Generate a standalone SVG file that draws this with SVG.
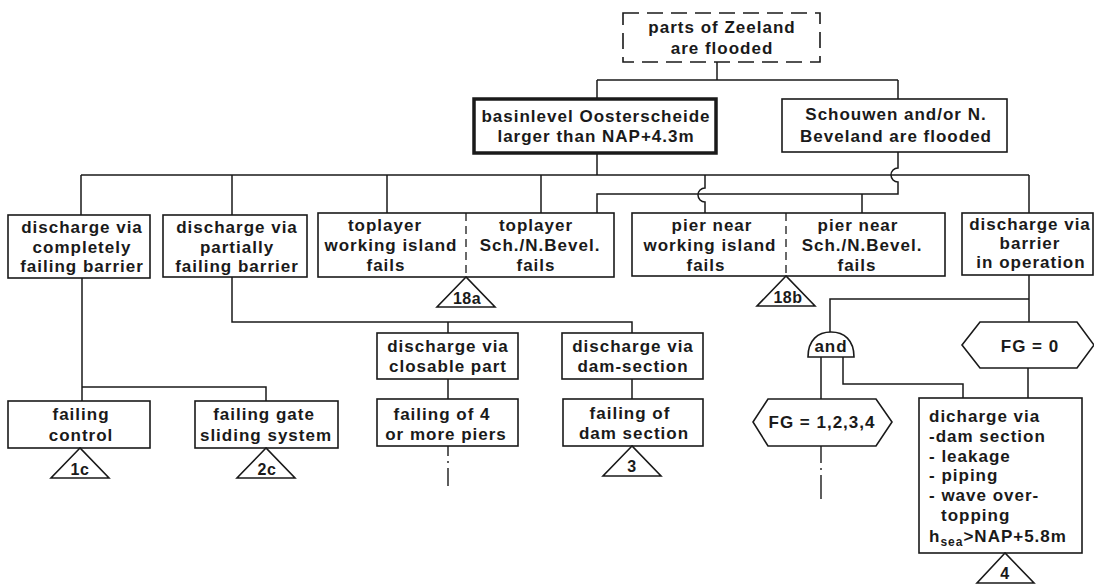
<svg xmlns="http://www.w3.org/2000/svg" width="1094" height="586" viewBox="0 0 1094 586">
<style>
.b{fill:#fff;stroke:#1a1a1a;stroke-width:1.6}
.t{font-family:"Liberation Sans",Arial,sans-serif;font-weight:bold;font-size:17px;letter-spacing:1px;fill:#1a1a1a;text-anchor:middle}
.l{text-anchor:start}
.s{font-size:16px;letter-spacing:0.5px}
.c{fill:none;stroke:#1a1a1a;stroke-width:1.5}
.dv{fill:none;stroke:#1a1a1a;stroke-width:1.3;stroke-dasharray:8 5}
.dd{fill:none;stroke:#1a1a1a;stroke-width:1.4}
</style>
<rect width="1094" height="586" fill="#fff"/>
<g id="connectors" class="c">
<path d="M717,62 V80 M597,80 H898 M597,80 V99 M898,80 V99"/>
<path d="M597,153 V175 M81,175 H1029"/>
<path d="M81,175 V215 M232,175 V215 M387,175 V213 M541,175 V213 M1029,175 V213"/>
<path d="M705,175 V188 A7,7 0 0 0 705,202 V213"/>
<path d="M898,152 V168 A7,7 0 0 0 898,182 V194 H597 V213 M862,194 V213"/>
<path d="M82,278 V387 H266 V401 M82,387 V401"/>
<path d="M232,277 V322 H632 V333 M448,322 V333 M448,379 V399 M632,379 V399"/>
<path d="M1029,275 V322 M1029,299 H830 V332 M821,357 V399 M843,357 V384 H963 V398 M1028,368 V398"/>
<path class="dd" stroke-dasharray="10 5 2 5 30" d="M448,446 V486"/>
<path class="dd" stroke-dasharray="17 5 2 5 30" d="M821,446 V499"/>
</g>
<g id="top">
<rect x="623" y="13" width="197" height="49" fill="#fff" stroke="#1a1a1a" stroke-width="1.6" stroke-dasharray="16 8"/>
<text class="t" x="722" y="33">parts of Zeeland</text>
<text class="t" x="722" y="54">are flooded</text>
</g>
<g id="basin">
<rect x="474" y="99" width="242" height="54" fill="#fff" stroke="#1a1a1a" stroke-width="3.5"/>
<text class="t" x="596" y="122">basinlevel Oosterscheide</text>
<text class="t" x="596" y="142">larger than NAP+4.3m</text>
</g>
<g id="schouwen">
<rect class="b" x="782" y="99" width="225" height="53"/>
<text class="t" x="896" y="120">Schouwen and/or N.</text>
<text class="t" x="896" y="142">Beveland are flooded</text>
</g>
<g id="dis-complete">
<rect class="b" x="8" y="215" width="142" height="63"/>
<text class="t" x="82" y="233">discharge via</text>
<text class="t" x="82" y="253">completely</text>
<text class="t" x="82" y="272">failing barrier</text>
</g>
<g id="dis-partial">
<rect class="b" x="163" y="215" width="144" height="62"/>
<text class="t" x="237" y="233">discharge via</text>
<text class="t" x="237" y="253">partially</text>
<text class="t" x="237" y="272">failing barrier</text>
</g>
<g id="toplayer">
<rect class="b" x="318" y="213" width="296" height="64"/>
<path class="dv" d="M466,213 V277"/>
<text class="t" x="385" y="231">toplayer</text>
<text class="t" x="391" y="251">working island</text>
<text class="t" x="386" y="271">fails</text>
<text class="t" x="536" y="231">toplayer</text>
<text class="t" x="540" y="251">Sch./N.Bevel.</text>
<text class="t" x="536" y="271">fails</text>
</g>
<g id="t18a">
<path class="b" d="M466,277 L437,307 H495 Z"/>
<text class="t s" x="467" y="304">18a</text>
</g>
<g id="pier">
<rect class="b" x="632" y="213" width="313" height="63"/>
<path class="dv" d="M786,213 V276"/>
<text class="t" x="712" y="231">pier near</text>
<text class="t" x="710" y="251">working island</text>
<text class="t" x="706" y="271">fails</text>
<text class="t" x="858" y="231">pier near</text>
<text class="t" x="862" y="251">Sch./N.Bevel.</text>
<text class="t" x="857" y="271">fails</text>
</g>
<g id="t18b">
<path class="b" d="M786,276 L757,306 H815 Z"/>
<text class="t s" x="788" y="303">18b</text>
</g>
<g id="dis-operation">
<rect class="b" x="962" y="213" width="131" height="62"/>
<text class="t" x="1030" y="230">discharge via</text>
<text class="t" x="1030" y="249">barrier</text>
<text class="t" x="1031" y="268">in operation</text>
</g>
<g id="failing-control">
<rect class="b" x="8" y="401" width="142" height="47"/>
<text class="t" x="81" y="420">failing</text>
<text class="t" x="81" y="441">control</text>
</g>
<g id="t1c">
<path class="b" d="M80,448 L51,478 H109 Z"/>
<text class="t s" x="80" y="475">1c</text>
</g>
<g id="failing-gate">
<rect class="b" x="195" y="401" width="143" height="47"/>
<text class="t" x="264" y="420">failing gate</text>
<text class="t" x="266" y="441">sliding system</text>
</g>
<g id="t2c">
<path class="b" d="M266,448 L237,478 H295 Z"/>
<text class="t s" x="267" y="475">2c</text>
</g>
<g id="dis-closable">
<rect class="b" x="377" y="333" width="141" height="46"/>
<text class="t" x="448" y="352">discharge via</text>
<text class="t" x="448" y="372">closable part</text>
</g>
<g id="dis-dam">
<rect class="b" x="562" y="333" width="141" height="46"/>
<text class="t" x="633" y="352">discharge via</text>
<text class="t" x="633" y="372">dam-section</text>
</g>
<g id="failing-piers">
<rect class="b" x="377" y="399" width="141" height="47"/>
<text class="t" x="442" y="420">failing of 4</text>
<text class="t" x="446" y="440">or more piers</text>
</g>
<g id="failing-dam">
<rect class="b" x="563" y="399" width="140" height="47"/>
<text class="t" x="630" y="419">failing of</text>
<text class="t" x="634" y="439">dam section</text>
</g>
<g id="t3">
<path class="b" d="M632,446 L603,476 H661 Z"/>
<text class="t s" x="632" y="472">3</text>
</g>
<g id="and-gate">
<path class="b" d="M808,357 C808,340 818,332 831,332 C844,332 854,340 854,357 Z"/>
<text class="t" x="831" y="352">and</text>
</g>
<g id="fg1234">
<path class="b" d="M753,422 L768,399 H876 L892,422 L876,446 H768 Z"/>
<text class="t" x="822" y="428">FG = 1,2,3,4</text>
</g>
<g id="fg0">
<path class="b" d="M962,345 L980,322 H1077 L1094,345 L1077,368 H980 Z"/>
<text class="t" x="1030" y="352">FG = 0</text>
</g>
<g id="dicharge">
<rect class="b" x="919" y="398" width="163" height="155"/>
<text class="t l" x="929" y="422">dicharge via</text>
<text class="t l" x="929" y="442">-dam section</text>
<text class="t l" x="929" y="462">- leakage</text>
<text class="t l" x="929" y="481">- piping</text>
<text class="t l" x="929" y="501">- wave over-</text>
<text class="t l" x="941" y="521">topping</text>
<text class="t l" x="929" y="542">h<tspan font-size="12" dy="4">sea</tspan><tspan dy="-4">&gt;NAP+5.8m</tspan></text>
</g>
<g id="t4">
<path class="b" d="M1005,553 L977,583 H1034 Z"/>
<text class="t s" x="1005" y="579">4</text>
</g>
</svg>
